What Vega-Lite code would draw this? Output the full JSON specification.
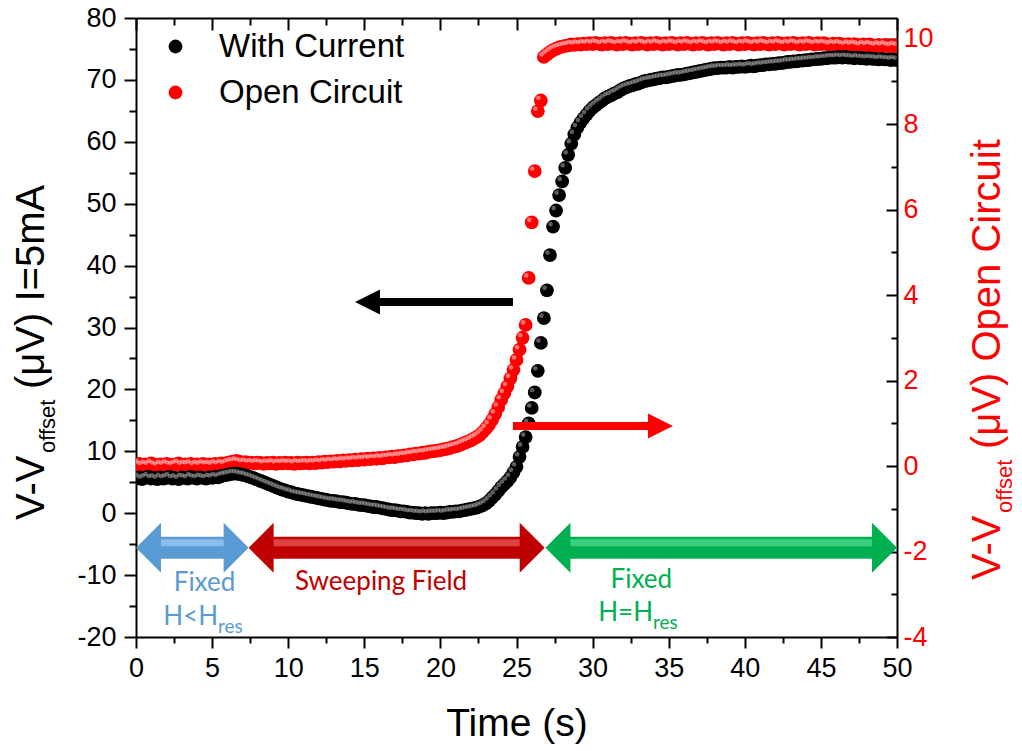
{
"$schema":"https://vega.github.io/schema/vega-lite/v6.json",
"width":761,"height":619,
"autosize":{"type":"none"},
"padding":{"left":136,"top":18,"right":125,"bottom":114},
"background":"white",
"config":{"view":{"stroke":null},"font":"Liberation Sans",
 "axis":{"grid":false,"domainColor":"black","domainWidth":2,"tickColor":"black","tickWidth":2,"labelFont":"Liberation Sans","labelFontSize":27,"labelColor":"black","labelFlush":false,"labelOverlap":false,"titleFont":"Liberation Sans","titleFontWeight":"normal","titleColor":"black"}},
"datasets":{
"series":[
{"t":0,"a":5.6,"b":0.03},{"t":0.2,"a":5.8,"b":0.05},{"t":0.4,"a":5.5,"b":0.01},{"t":0.6,"a":5.7,"b":0.04},{"t":0.8,"a":5.9,"b":0.02},{"t":1,"a":5.6,"b":0.06},{"t":1.2,"a":5.7,"b":0.03},{"t":1.4,"a":5.5,"b":0},{"t":1.6,"a":5.8,"b":0.04},{"t":1.8,"a":5.6,"b":0.02},
{"t":2,"a":5.7,"b":0.05},{"t":2.2,"a":5.9,"b":0.03},{"t":2.4,"a":5.6,"b":0.01},{"t":2.6,"a":5.7,"b":0.04},{"t":2.8,"a":5.5,"b":0.06},{"t":3,"a":5.8,"b":0.02},{"t":3.2,"a":5.7,"b":0.04},{"t":3.4,"a":5.6,"b":0.03},{"t":3.6,"a":5.9,"b":0.05},{"t":3.8,"a":5.7,"b":0.01},
{"t":4,"a":5.6,"b":0.04},{"t":4.2,"a":5.8,"b":0.02},{"t":4.4,"a":5.7,"b":0.05},{"t":4.6,"a":5.6,"b":0.03},{"t":4.8,"a":5.8,"b":0.04},{"t":5,"a":5.7,"b":0.02},{"t":5.2,"a":5.9,"b":0.05},{"t":5.4,"a":5.8,"b":0.03},{"t":5.6,"a":6.0,"b":0.06},{"t":5.8,"a":6.1,"b":0.04},
{"t":6,"a":6.2,"b":0.07},{"t":6.2,"a":6.3,"b":0.09},{"t":6.4,"a":6.4,"b":0.1},{"t":6.6,"a":6.4,"b":0.12},{"t":6.8,"a":6.3,"b":0.1},{"t":7,"a":6.2,"b":0.08},{"t":7.2,"a":6.1,"b":0.09},{"t":7.4,"a":5.9,"b":0.07},{"t":7.6,"a":5.8,"b":0.08},{"t":7.8,"a":5.6,"b":0.06},
{"t":8,"a":5.4,"b":0.08},{"t":8.2,"a":5.2,"b":0.07},{"t":8.4,"a":5.0,"b":0.05},{"t":8.6,"a":4.8,"b":0.07},{"t":8.8,"a":4.6,"b":0.06},{"t":9,"a":4.4,"b":0.08},{"t":9.2,"a":4.2,"b":0.05},{"t":9.4,"a":4.0,"b":0.07},{"t":9.6,"a":3.8,"b":0.06},{"t":9.8,"a":3.7,"b":0.08},
{"t":10,"a":3.5,"b":0.06},{"t":10.2,"a":3.4,"b":0.07},{"t":10.4,"a":3.2,"b":0.05},{"t":10.6,"a":3.1,"b":0.08},{"t":10.8,"a":3.0,"b":0.06},{"t":11,"a":2.9,"b":0.07},{"t":11.2,"a":2.8,"b":0.08},{"t":11.4,"a":2.7,"b":0.06},{"t":11.6,"a":2.6,"b":0.08},{"t":11.8,"a":2.5,"b":0.07},
{"t":12,"a":2.4,"b":0.09},{"t":12.2,"a":2.3,"b":0.08},{"t":12.4,"a":2.2,"b":0.1},{"t":12.6,"a":2.1,"b":0.09},{"t":12.8,"a":2.0,"b":0.11},{"t":13,"a":2.0,"b":0.1},{"t":13.2,"a":1.9,"b":0.12},{"t":13.4,"a":1.8,"b":0.11},{"t":13.6,"a":1.8,"b":0.13},{"t":13.8,"a":1.7,"b":0.12},
{"t":14,"a":1.6,"b":0.14},{"t":14.2,"a":1.5,"b":0.13},{"t":14.4,"a":1.5,"b":0.15},{"t":14.6,"a":1.4,"b":0.14},{"t":14.8,"a":1.3,"b":0.16},{"t":15,"a":1.3,"b":0.15},{"t":15.2,"a":1.2,"b":0.17},{"t":15.4,"a":1.1,"b":0.16},{"t":15.6,"a":1.0,"b":0.18},{"t":15.8,"a":1.0,"b":0.17},
{"t":16,"a":0.9,"b":0.19},{"t":16.2,"a":0.8,"b":0.18},{"t":16.4,"a":0.7,"b":0.2},{"t":16.6,"a":0.6,"b":0.2},{"t":16.8,"a":0.5,"b":0.22},{"t":17,"a":0.5,"b":0.21},{"t":17.2,"a":0.4,"b":0.23},{"t":17.4,"a":0.3,"b":0.23},{"t":17.6,"a":0.3,"b":0.25},{"t":17.8,"a":0.2,"b":0.25},
{"t":18,"a":0.1,"b":0.27},{"t":18.2,"a":0.1,"b":0.27},{"t":18.4,"a":0.0,"b":0.29},{"t":18.6,"a":0.0,"b":0.29},{"t":18.8,"a":-0.1,"b":0.31},{"t":19,"a":0.0,"b":0.31},{"t":19.2,"a":-0.1,"b":0.33},{"t":19.4,"a":0.0,"b":0.34},{"t":19.6,"a":0.0,"b":0.35},{"t":19.8,"a":0.0,"b":0.36},
{"t":20,"a":0.1,"b":0.37},{"t":20.2,"a":0.0,"b":0.39},{"t":20.4,"a":0.1,"b":0.4},{"t":20.6,"a":0.2,"b":0.42},{"t":20.8,"a":0.2,"b":0.44},{"t":21,"a":0.3,"b":0.46},{"t":21.2,"a":0.3,"b":0.48},{"t":21.4,"a":0.4,"b":0.51},{"t":21.6,"a":0.5,"b":0.54},{"t":21.8,"a":0.6,"b":0.57},
{"t":22,"a":0.7,"b":0.6},{"t":22.2,"a":0.8,"b":0.64},{"t":22.4,"a":0.9,"b":0.68},{"t":22.6,"a":1.1,"b":0.73},{"t":22.8,"a":1.3,"b":0.8},{"t":23,"a":1.6,"b":0.88},{"t":23.2,"a":2.0,"b":0.97},{"t":23.4,"a":2.5,"b":1.08},{"t":23.6,"a":3.0,"b":1.22},{"t":23.8,"a":3.6,"b":1.38},
{"t":24,"a":4.2,"b":1.55},{"t":24.2,"a":4.7,"b":1.7},{"t":24.4,"a":5.2,"b":1.86},{"t":24.6,"a":5.8,"b":2.05},{"t":24.8,"a":6.6,"b":2.25},{"t":25,"a":7.5,"b":2.48},{"t":25.2,"a":9.1,"b":2.72},{"t":25.4,"a":10.7,"b":3.0},{"t":25.6,"a":12.3,"b":3.3},{"t":25.8,"a":14.5,"b":4.4},
{"t":26,"a":17.0,"b":5.7},{"t":26.2,"a":19.5,"b":6.9},{"t":26.4,"a":23.0,"b":8.3},{"t":26.6,"a":27.5,"b":8.55},{"t":26.8,"a":31.5,"b":9.57},{"t":27,"a":36.0,"b":9.63},{"t":27.2,"a":41.7,"b":9.68},{"t":27.4,"a":46.3,"b":9.73},{"t":27.6,"a":48.9,"b":9.76},{"t":27.8,"a":51.4,"b":9.79},
{"t":28,"a":53.6,"b":9.81},{"t":28.2,"a":55.8,"b":9.83},{"t":28.4,"a":57.9,"b":9.84},{"t":28.6,"a":59.7,"b":9.86},{"t":28.8,"a":61.2,"b":9.85},{"t":29,"a":62.3,"b":9.87},{"t":29.2,"a":63.1,"b":9.86},{"t":29.4,"a":63.8,"b":9.88},{"t":29.6,"a":64.4,"b":9.87},{"t":29.8,"a":65.0,"b":9.89},
{"t":30,"a":65.5,"b":9.87},{"t":30.2,"a":65.9,"b":9.9},{"t":30.4,"a":66.3,"b":9.88},{"t":30.6,"a":66.6,"b":9.86},{"t":30.8,"a":67.0,"b":9.89},{"t":31,"a":67.3,"b":9.87},{"t":31.2,"a":67.5,"b":9.9},{"t":31.4,"a":67.8,"b":9.88},{"t":31.6,"a":68.0,"b":9.86},{"t":31.8,"a":68.3,"b":9.89},
{"t":32,"a":68.6,"b":9.87},{"t":32.2,"a":68.8,"b":9.9},{"t":32.4,"a":69.0,"b":9.88},{"t":32.6,"a":69.1,"b":9.86},{"t":32.8,"a":69.3,"b":9.89},{"t":33,"a":69.4,"b":9.87},{"t":33.2,"a":69.6,"b":9.9},{"t":33.4,"a":69.8,"b":9.88},{"t":33.6,"a":69.9,"b":9.86},{"t":33.8,"a":70.0,"b":9.89},
{"t":34,"a":70.1,"b":9.87},{"t":34.2,"a":70.2,"b":9.9},{"t":34.4,"a":70.3,"b":9.88},{"t":34.6,"a":70.4,"b":9.86},{"t":34.8,"a":70.4,"b":9.89},{"t":35,"a":70.5,"b":9.87},{"t":35.2,"a":70.6,"b":9.9},{"t":35.4,"a":70.7,"b":9.88},{"t":35.6,"a":70.8,"b":9.86},{"t":35.8,"a":70.8,"b":9.89},
{"t":36,"a":70.9,"b":9.87},{"t":36.2,"a":71.0,"b":9.9},{"t":36.4,"a":71.1,"b":9.88},{"t":36.6,"a":71.2,"b":9.86},{"t":36.8,"a":71.3,"b":9.89},{"t":37,"a":71.4,"b":9.87},{"t":37.2,"a":71.5,"b":9.9},{"t":37.4,"a":71.6,"b":9.88},{"t":37.6,"a":71.7,"b":9.86},{"t":37.8,"a":71.8,"b":9.89},
{"t":38,"a":71.9,"b":9.87},{"t":38.2,"a":71.9,"b":9.9},{"t":38.4,"a":72.0,"b":9.88},{"t":38.6,"a":72.0,"b":9.86},{"t":38.8,"a":72.0,"b":9.89},{"t":39,"a":72.1,"b":9.87},{"t":39.2,"a":72.0,"b":9.9},{"t":39.4,"a":72.1,"b":9.88},{"t":39.6,"a":72.1,"b":9.86},{"t":39.8,"a":72.2,"b":9.89},
{"t":40,"a":72.1,"b":9.87},{"t":40.2,"a":72.2,"b":9.9},{"t":40.4,"a":72.3,"b":9.88},{"t":40.6,"a":72.2,"b":9.86},{"t":40.8,"a":72.3,"b":9.89},{"t":41,"a":72.4,"b":9.87},{"t":41.2,"a":72.4,"b":9.9},{"t":41.4,"a":72.5,"b":9.88},{"t":41.6,"a":72.5,"b":9.86},{"t":41.8,"a":72.6,"b":9.89},
{"t":42,"a":72.6,"b":9.87},{"t":42.2,"a":72.7,"b":9.9},{"t":42.4,"a":72.7,"b":9.88},{"t":42.6,"a":72.8,"b":9.86},{"t":42.8,"a":72.9,"b":9.89},{"t":43,"a":72.9,"b":9.87},{"t":43.2,"a":73.0,"b":9.9},{"t":43.4,"a":73.0,"b":9.88},{"t":43.6,"a":73.1,"b":9.86},{"t":43.8,"a":73.1,"b":9.89},
{"t":44,"a":73.2,"b":9.87},{"t":44.2,"a":73.2,"b":9.9},{"t":44.4,"a":73.3,"b":9.88},{"t":44.6,"a":73.3,"b":9.86},{"t":44.8,"a":73.4,"b":9.89},{"t":45,"a":73.4,"b":9.87},{"t":45.2,"a":73.5,"b":9.89},{"t":45.4,"a":73.5,"b":9.87},{"t":45.6,"a":73.6,"b":9.85},{"t":45.8,"a":73.6,"b":9.88},
{"t":46,"a":73.6,"b":9.86},{"t":46.2,"a":73.7,"b":9.88},{"t":46.4,"a":73.6,"b":9.86},{"t":46.6,"a":73.7,"b":9.84},{"t":46.8,"a":73.6,"b":9.87},{"t":47,"a":73.6,"b":9.85},{"t":47.2,"a":73.5,"b":9.87},{"t":47.4,"a":73.6,"b":9.85},{"t":47.6,"a":73.5,"b":9.83},{"t":47.8,"a":73.5,"b":9.86},
{"t":48,"a":73.4,"b":9.84},{"t":48.2,"a":73.5,"b":9.86},{"t":48.4,"a":73.4,"b":9.84},{"t":48.6,"a":73.4,"b":9.82},{"t":48.8,"a":73.3,"b":9.85},{"t":49,"a":73.4,"b":9.83},{"t":49.2,"a":73.3,"b":9.85},{"t":49.4,"a":73.3,"b":9.83},{"t":49.6,"a":73.2,"b":9.81},{"t":49.8,"a":73.3,"b":9.84},
{"t":50,"a":73.2,"b":9.82}
],
"phases":[{"s":0,"e":7.4,"v":-5.6,"ph":"A"},{"s":7.4,"e":26.85,"v":-5.6,"ph":"B"},{"s":26.9,"e":50,"v":-5.6,"ph":"C"}],
"labels":[
{"t":4.5,"v":-12.57,"txt":"Fixed","ph":"A","line":"main"},
{"t":16.1,"v":-12.4,"txt":"Sweeping Field","ph":"B","line":"main"},
{"t":33.2,"v":-12.08,"txt":"Fixed","ph":"C","line":"main"},
{"t":5.39,"v":-18.06,"txt":"H<H","ph":"A","line":"l2"},
{"t":33.97,"v":-17.42,"txt":"H=H","ph":"C","line":"l2"},
{"t":5.39,"v":-18.06,"txt":"res","ph":"A","line":"sub"},
{"t":33.97,"v":-17.42,"txt":"res","ph":"C","line":"sub"}
],
"pointers":[{"from":24.77,"to":14.39,"v":34.1,"dir":"left"},{"from":24.77,"to":35.28,"v":14.1,"dir":"right"}]
},
"resolve":{"scale":{"y":"independent","fill":"independent","stroke":"independent"},"axis":{"x":"independent","y":"independent"}},
"layer":[
{"data":{"name":"series"},
 "mark":{"type":"point","filled":true,"size":190,"opacity":1,"strokeWidth":0,"clip":true},
 "encoding":{
  "x":{"field":"t","type":"quantitative","scale":{"domain":[0,50],"nice":false,"zero":false},
   "axis":{"orient":"top","values":[0,2.5,5,7.5,10,12.5,15,17.5,20,22.5,25,27.5,30,32.5,35,37.5,40,42.5,45,47.5,50],"labels":false,"title":null,"tickSize":{"condition":{"test":"datum.value % 5 === 0","value":-12},"value":-7}}},
  "y":{"field":"b","type":"quantitative","scale":{"domain":[-4,10.48],"nice":false,"zero":false},
   "axis":{"orient":"right","values":[-4,-3,-2,-1,0,1,2,3,4,5,6,7,8,9,10],"title":null,"labelExpr":"datum.value % 2 === 0 ? replace(datum.label, '−', '-') : ''","labelColor":"#ff0000","labelPadding":17,"tickSize":{"condition":{"test":"datum.value % 2 === 0","value":-11},"value":-6}}},
  "color":{"datum":"Open Circuit",
   "scale":{"domain":["With Current","Open Circuit"],"range":["#000000","#ff0000"]},
   "legend":{"orient":"none","legendX":23,"legendY":12,"title":null,"labelFontSize":33,"labelFont":"Liberation Sans","labelColor":"black","labelLimit":500,"symbolSize":190,"symbolType":"circle","symbolStrokeWidth":0,"symbolOpacity":1,"labelOffset":27,"rowPadding":12,"padding":0}}
 }},
{"data":{"name":"series"},
 "mark":{"type":"point","filled":true,"size":22,"opacity":0.55,"strokeWidth":0,"clip":true,"color":"#ffd0d0","xOffset":-2.5,"yOffset":-2.5},
 "encoding":{
  "x":{"field":"t","type":"quantitative","scale":{"domain":[0,50],"nice":false,"zero":false},"axis":null},
  "y":{"field":"b","type":"quantitative","scale":{"domain":[-4,10.48],"nice":false,"zero":false},"axis":null}
 }},
{"data":{"name":"series"},
 "mark":{"type":"point","filled":true,"size":190,"opacity":1,"strokeWidth":0,"clip":true},
 "encoding":{
  "x":{"field":"t","type":"quantitative","scale":{"domain":[0,50],"nice":false,"zero":false},
   "axis":{"orient":"bottom","values":[0,2.5,5,7.5,10,12.5,15,17.5,20,22.5,25,27.5,30,32.5,35,37.5,40,42.5,45,47.5,50],"labelExpr":"datum.value % 5 === 0 ? datum.label : ''","labelPadding":7,"title":"Time (s)","titleFontSize":39,"titlePadding":23,"tickSize":{"condition":{"test":"datum.value % 5 === 0","value":11},"value":6}}},
  "y":{"field":"a","type":"quantitative","scale":{"domain":[-20,80],"nice":false,"zero":false},
   "axis":{"orient":"left","values":[-20,-15,-10,-5,0,5,10,15,20,25,30,35,40,45,50,55,60,65,70,75,80],"title":null,"labelExpr":"datum.value % 10 === 0 ? replace(datum.label, '−', '-') : ''","labelPadding":8,"tickSize":{"condition":{"test":"datum.value % 10 === 0","value":12},"value":7}}},
  "color":{"datum":"With Current",
   "scale":{"domain":["With Current","Open Circuit"],"range":["#000000","#ff0000"]},
   "legend":{"orient":"none","legendX":23,"legendY":12,"title":null,"labelFontSize":33,"labelFont":"Liberation Sans","labelColor":"black","labelLimit":500,"symbolSize":190,"symbolType":"circle","symbolStrokeWidth":0,"symbolOpacity":1,"labelOffset":27,"rowPadding":12,"padding":0}}
 }},
{"data":{"name":"series"},
 "mark":{"type":"point","filled":true,"size":22,"opacity":0.5,"strokeWidth":0,"clip":true,"color":"#b8b8b8","xOffset":-2.5,"yOffset":-2.5},
 "encoding":{
  "x":{"field":"t","type":"quantitative","scale":{"domain":[0,50],"nice":false,"zero":false},"axis":null},
  "y":{"field":"a","type":"quantitative","scale":{"domain":[-20,80],"nice":false,"zero":false},"axis":null}
 }},
{"data":{"name":"pointers"},"transform":[{"filter":"datum.dir === 'left'"}],
 "mark":{"type":"rule","color":"black","strokeWidth":8,"x2Offset":20},
 "encoding":{"x":{"field":"from","type":"quantitative","scale":{"domain":[0,50],"nice":false,"zero":false},"axis":null},"x2":{"field":"to"},
  "y":{"field":"v","type":"quantitative","scale":{"domain":[-20,80],"nice":false,"zero":false},"axis":null}}},
{"data":{"name":"pointers"},"transform":[{"filter":"datum.dir === 'left'"}],
 "mark":{"type":"point","filled":true,"opacity":1,"color":"black","strokeWidth":0,"size":2500,"shape":"M0,0L1,-0.5L1,0.5Z"},
 "encoding":{"x":{"field":"to","type":"quantitative","scale":{"domain":[0,50],"nice":false,"zero":false},"axis":null},
  "y":{"field":"v","type":"quantitative","scale":{"domain":[-20,80],"nice":false,"zero":false},"axis":null}}},
{"data":{"name":"pointers"},"transform":[{"filter":"datum.dir === 'right'"}],
 "mark":{"type":"rule","color":"#ff0000","strokeWidth":8,"x2Offset":-20},
 "encoding":{"x":{"field":"from","type":"quantitative","scale":{"domain":[0,50],"nice":false,"zero":false},"axis":null},"x2":{"field":"to"},
  "y":{"field":"v","type":"quantitative","scale":{"domain":[-20,80],"nice":false,"zero":false},"axis":null}}},
{"data":{"name":"pointers"},"transform":[{"filter":"datum.dir === 'right'"}],
 "mark":{"type":"point","filled":true,"opacity":1,"color":"#ff0000","strokeWidth":0,"size":2500,"shape":"M0,0L-1,-0.5L-1,0.5Z"},
 "encoding":{"x":{"field":"to","type":"quantitative","scale":{"domain":[0,50],"nice":false,"zero":false},"axis":null},
  "y":{"field":"v","type":"quantitative","scale":{"domain":[-20,80],"nice":false,"zero":false},"axis":null}}},
{"data":{"name":"phases"},
 "mark":{"type":"rule","strokeWidth":22,"xOffset":20,"x2Offset":-20},
 "encoding":{"x":{"field":"s","type":"quantitative","scale":{"domain":[0,50],"nice":false,"zero":false},"axis":null},"x2":{"field":"e"},
  "y":{"field":"v","type":"quantitative","scale":{"domain":[-20,80],"nice":false,"zero":false},"axis":null},
  "stroke":{"field":"ph","type":"nominal","scale":{"domain":["A","B","C"],"range":["#5b9bd5","#c00000","#00b050"]},"legend":null}}},
{"data":{"name":"phases"},
 "mark":{"type":"rule","strokeWidth":7,"xOffset":22,"x2Offset":-22,"yOffset":-5,"opacity":0.9},
 "encoding":{"x":{"field":"s","type":"quantitative","scale":{"domain":[0,50],"nice":false,"zero":false},"axis":null},"x2":{"field":"e"},
  "y":{"field":"v","type":"quantitative","scale":{"domain":[-20,80],"nice":false,"zero":false},"axis":null},
  "stroke":{"field":"ph","type":"nominal","scale":{"domain":["A","B","C"],"range":["#8fc1ec","#e04848","#3fd383"]},"legend":null}}},
{"data":{"name":"phases"},
 "mark":{"type":"point","filled":true,"opacity":1,"strokeWidth":0,"size":2500,"shape":"M0,0L1,-1L1,1Z"},
 "encoding":{"x":{"field":"s","type":"quantitative","scale":{"domain":[0,50],"nice":false,"zero":false},"axis":null},
  "y":{"field":"v","type":"quantitative","scale":{"domain":[-20,80],"nice":false,"zero":false},"axis":null},
  "fill":{"field":"ph","type":"nominal","scale":{"domain":["A","B","C"],"range":["#5b9bd5","#c00000","#00b050"]},"legend":null}}},
{"data":{"name":"phases"},
 "mark":{"type":"point","filled":true,"opacity":1,"strokeWidth":0,"size":2500,"shape":"M0,0L-1,-1L-1,1Z"},
 "encoding":{"x":{"field":"e","type":"quantitative","scale":{"domain":[0,50],"nice":false,"zero":false},"axis":null},
  "y":{"field":"v","type":"quantitative","scale":{"domain":[-20,80],"nice":false,"zero":false},"axis":null},
  "fill":{"field":"ph","type":"nominal","scale":{"domain":["A","B","C"],"range":["#5b9bd5","#c00000","#00b050"]},"legend":null}}},
{"data":{"name":"labels"},"transform":[{"filter":"datum.line === 'main'"}],
 "mark":{"type":"text","align":"center","baseline":"alphabetic","font":"Lato","fontSize":26},
 "encoding":{"x":{"field":"t","type":"quantitative","scale":{"domain":[0,50],"nice":false,"zero":false},"axis":null},
  "y":{"field":"v","type":"quantitative","scale":{"domain":[-20,80],"nice":false,"zero":false},"axis":null},
  "text":{"field":"txt"},
  "fill":{"field":"ph","type":"nominal","scale":{"domain":["A","B","C"],"range":["#5b9bd5","#c00000","#00b050"]},"legend":null}}},
{"data":{"name":"labels"},"transform":[{"filter":"datum.line === 'l2'"}],
 "mark":{"type":"text","align":"right","baseline":"alphabetic","font":"Lato","fontSize":26},
 "encoding":{"x":{"field":"t","type":"quantitative","scale":{"domain":[0,50],"nice":false,"zero":false},"axis":null},
  "y":{"field":"v","type":"quantitative","scale":{"domain":[-20,80],"nice":false,"zero":false},"axis":null},
  "text":{"field":"txt"},
  "fill":{"field":"ph","type":"nominal","scale":{"domain":["A","B","C"],"range":["#5b9bd5","#c00000","#00b050"]},"legend":null}}},
{"data":{"name":"labels"},"transform":[{"filter":"datum.line === 'sub'"}],
 "mark":{"type":"text","align":"left","baseline":"alphabetic","font":"Lato","fontSize":19,"dy":8},
 "encoding":{"x":{"field":"t","type":"quantitative","scale":{"domain":[0,50],"nice":false,"zero":false},"axis":null},
  "y":{"field":"v","type":"quantitative","scale":{"domain":[-20,80],"nice":false,"zero":false},"axis":null},
  "text":{"field":"txt"},
  "fill":{"field":"ph","type":"nominal","scale":{"domain":["A","B","C"],"range":["#5b9bd5","#c00000","#00b050"]},"legend":null}}},
{"data":{"values":[{}]},
 "mark":{"type":"text","angle":270,"align":"left","baseline":"alphabetic","dx":117,"dy":-92,"fontSize":40,"font":"Liberation Sans","color":"black"},
 "encoding":{"x":{"datum":0,"type":"quantitative","scale":{"domain":[0,50],"nice":false,"zero":false},"axis":null},"y":{"datum":-20,"type":"quantitative","scale":{"domain":[-20,80],"nice":false,"zero":false},"axis":null},"text":{"value":"V-V"}}},
{"data":{"values":[{}]},
 "mark":{"type":"text","angle":270,"align":"left","baseline":"alphabetic","dx":184,"dy":-81,"fontSize":22,"font":"Liberation Sans","color":"black"},
 "encoding":{"x":{"datum":0,"type":"quantitative","scale":{"domain":[0,50],"nice":false,"zero":false},"axis":null},"y":{"datum":-20,"type":"quantitative","scale":{"domain":[-20,80],"nice":false,"zero":false},"axis":null},"text":{"value":"offset"}}},
{"data":{"values":[{}]},
 "mark":{"type":"text","angle":270,"align":"left","baseline":"alphabetic","dx":248,"dy":-92,"fontSize":40,"font":"Liberation Sans","color":"black"},
 "encoding":{"x":{"datum":0,"type":"quantitative","scale":{"domain":[0,50],"nice":false,"zero":false},"axis":null},"y":{"datum":-20,"type":"quantitative","scale":{"domain":[-20,80],"nice":false,"zero":false},"axis":null},"text":{"value":"(μV) I=5mA"}}},
{"data":{"values":[{}]},
 "mark":{"type":"text","angle":270,"align":"left","baseline":"alphabetic","dx":57,"dy":103,"fontSize":40,"font":"Liberation Sans","color":"#ff0000"},
 "encoding":{"x":{"datum":50,"type":"quantitative","scale":{"domain":[0,50],"nice":false,"zero":false},"axis":null},"y":{"datum":-20,"type":"quantitative","scale":{"domain":[-20,80],"nice":false,"zero":false},"axis":null},"text":{"value":"V-V"}}},
{"data":{"values":[{}]},
 "mark":{"type":"text","angle":270,"align":"left","baseline":"alphabetic","dx":124,"dy":115,"fontSize":22,"font":"Liberation Sans","color":"#ff0000"},
 "encoding":{"x":{"datum":50,"type":"quantitative","scale":{"domain":[0,50],"nice":false,"zero":false},"axis":null},"y":{"datum":-20,"type":"quantitative","scale":{"domain":[-20,80],"nice":false,"zero":false},"axis":null},"text":{"value":"offset"}}},
{"data":{"values":[{}]},
 "mark":{"type":"text","angle":270,"align":"left","baseline":"alphabetic","dx":188,"dy":103,"fontSize":40,"font":"Liberation Sans","color":"#ff0000"},
 "encoding":{"x":{"datum":50,"type":"quantitative","scale":{"domain":[0,50],"nice":false,"zero":false},"axis":null},"y":{"datum":-20,"type":"quantitative","scale":{"domain":[-20,80],"nice":false,"zero":false},"axis":null},"text":{"value":"(μV) Open Circuit"}}}
]
}
